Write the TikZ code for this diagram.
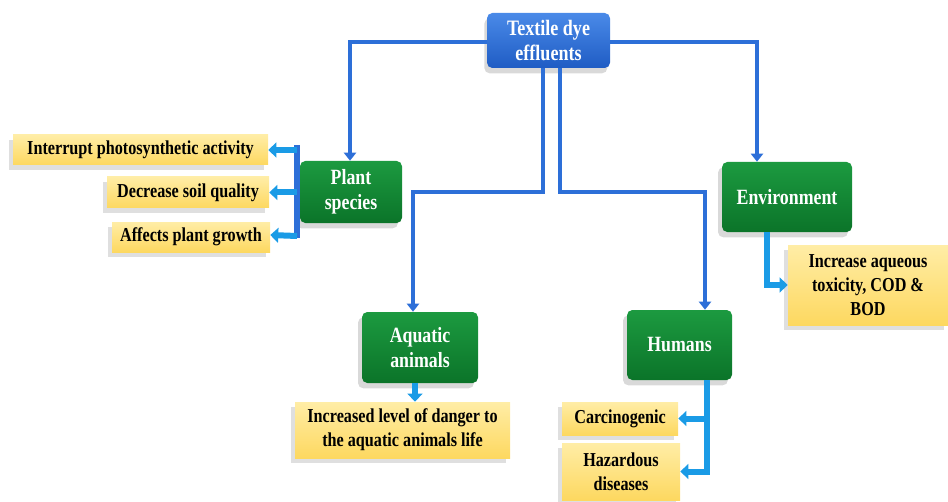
\documentclass[tikz,border=0pt]{standalone}
\usepackage{fontspec}
\setmainfont{Liberation Serif}[FakeStretch=0.82]
\usetikzlibrary{shadows,arrows.meta,calc}
\definecolor{boxblueT}{HTML}{4A8AE8}
\definecolor{boxblueB}{HTML}{1F5CC4}
\definecolor{greenT}{HTML}{1C9A40}
\definecolor{greenB}{HTML}{0B7429}
\definecolor{yelT}{HTML}{FFEDA6}
\definecolor{yelB}{HTML}{FDD860}
\definecolor{connblue}{HTML}{2D6FD8}
\definecolor{lightblue}{HTML}{1A9BE6}
\tikzset{
  every node/.style={font=\bfseries\fontsize{14.8}{18}\selectfont, align=center, inner sep=0pt},
  topbox/.style={rounded corners=4pt, top color=boxblueT, bottom color=boxblueB, text=white,
     font=\bfseries\fontsize{16.5}{19}\selectfont,
     drop shadow={shadow xshift=-2pt, shadow yshift=-4pt, opacity=0.3}},
  greenbox/.style={rounded corners=4pt, top color=greenT, bottom color=greenB, text=white,
     font=\bfseries\fontsize{16.3}{19}\selectfont,
     drop shadow={shadow xshift=-3pt, shadow yshift=-4pt, opacity=0.3}},
  yelbox/.style={top color=yelT, bottom color=yelB, text=black,
     drop shadow={shadow xshift=-3pt, shadow yshift=-4pt, opacity=0.25}},
  conn/.style={draw=connblue, line width=3.5pt, -{Triangle[length=6pt,width=9pt]}},
  bar/.style={draw=connblue, line width=4pt},
  lconn/.style={draw=lightblue, line width=4.5pt, -{Triangle[length=6pt,width=11pt]}},
}
\begin{document}
\begin{tikzpicture}[x=0.75pt,y=-0.75pt]
\useasboundingbox (0,0) rectangle (948,502);
% main nodes
\node[topbox, minimum width=123*0.75pt, minimum height=55*0.75pt] (top) at (548.5,40.5) {Textile dye\\effluents};
\node[greenbox, minimum width=102*0.75pt, minimum height=62*0.75pt] (plant) at (351,192) {Plant\\species};
\node[greenbox, minimum width=130*0.75pt, minimum height=70*0.75pt] (env) at (787,197) {Environment};
\node[greenbox, minimum width=116*0.75pt, minimum height=71*0.75pt] (aqua) at (420,347.5) {Aquatic\\animals};
\node[greenbox, minimum width=105*0.75pt, minimum height=70*0.75pt] (hum) at (679.5,345) {Humans};
% result nodes
\node[yelbox, minimum width=255*0.75pt, minimum height=30*0.75pt] (y1) at (140.5,150) {Interrupt photosynthetic activity};
\node[yelbox, minimum width=162*0.75pt, minimum height=31*0.75pt] (y2) at (188,192.5) {Decrease soil quality};
\node[yelbox, minimum width=158*0.75pt, minimum height=30*0.75pt] (y3) at (191,237) {Affects plant growth};
\node[yelbox, minimum width=160*0.75pt, minimum height=80*0.75pt] (yenv) at (868,285) {Increase aqueous\\toxicity, COD \&\\BOD};
\node[yelbox, minimum width=215*0.75pt, minimum height=56*0.75pt] (yaq) at (402.5,430) {Increased level of danger to\\the aquatic animals life};
\node[yelbox, minimum width=116*0.75pt, minimum height=33*0.75pt] (ycar) at (620,418.5) {Carcinogenic};
\node[yelbox, minimum width=118*0.75pt, minimum height=57*0.75pt] (yhaz) at (621,471.5) {Hazardous\\diseases};
% coordinates for bends
\coordinate (pl) at (350,42);
\coordinate (pr) at (757,42);
\coordinate (sL) at ($(top.south)+(-5.5,0)$);
\coordinate (sR) at ($(top.south)+(11.5,0)$);
\coordinate (bL) at (413,192);
\coordinate (bR) at (705,192);
\coordinate (pb1) at (297,145);
\coordinate (pb2) at (297,238);
\coordinate (ex) at (767,0);
\coordinate (ax) at (415,0);
\coordinate (hb) at (707,471.5);
% connectors from top
\draw[conn] (top.west |- pl) -- (pl) -- (pl |- plant.north);
\draw[conn] (top.east |- pr) -- (pr) -- (pr |- env.north);
\draw[conn] (sL) |- (bL) -- (bL |- aqua.north);
\draw[conn] (sR) |- (bR) -- (bR |- hum.north);
% plant bracket
\draw[bar] (pb1) -- (pb2);
\draw[lconn] (pb1 |- y1.east) -- (y1.east);
\draw[lconn] (pb1 |- y2.east) -- (y2.east);
\draw[lconn] ($(pb2)+(0,-2)$) -- ($(y3.east)+(0,-2)$);
% environment
\draw[lconn] (ex |- env.south) |- (yenv.west);
% aquatic
\draw[lconn] (ax |- aqua.south) -- (ax |- yaq.north);
% humans
\draw[lconn] (hb |- hum.south) -- (hb) -- (yhaz.east);
\draw[lconn] (hb |- ycar.east) -- (ycar.east);
\end{tikzpicture}
\end{document}
